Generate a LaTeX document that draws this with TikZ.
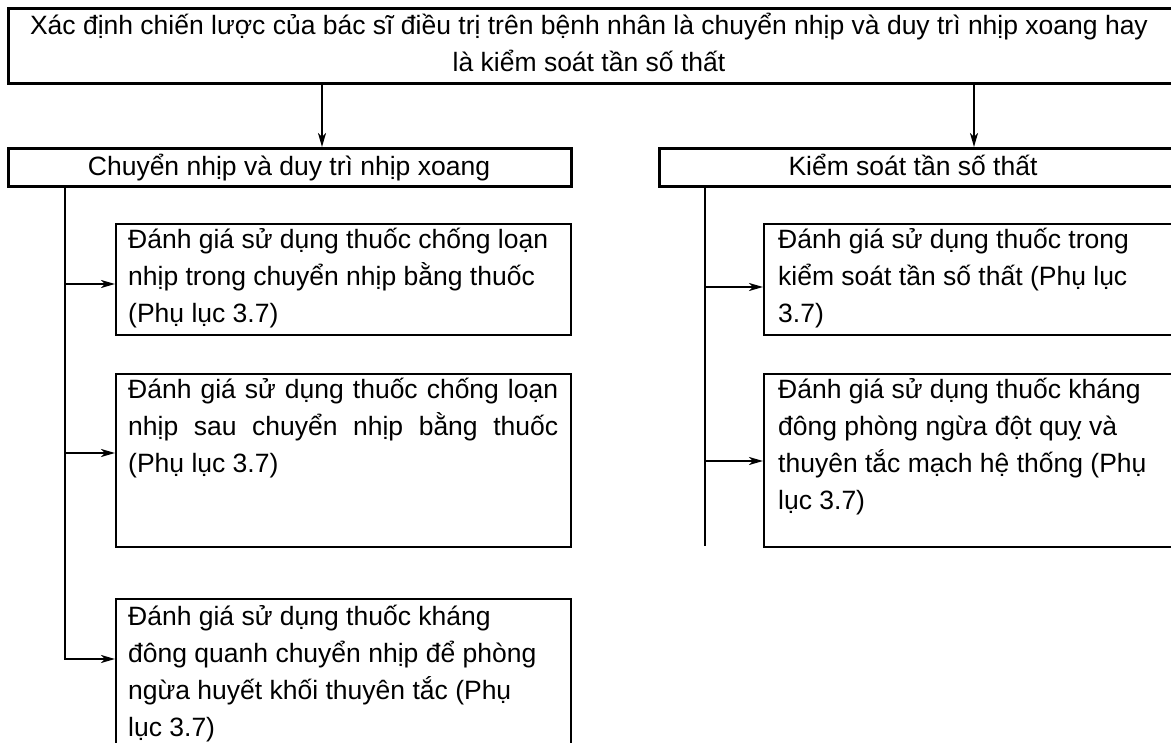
\documentclass[tikz,border=0pt]{standalone}
\usepackage{fontspec}
\setmainfont{Liberation Sans}
\usetikzlibrary{arrows.meta}
\newcommand\fsz{\fontsize{26.5pt}{37pt}\selectfont}
\begin{document}
\begin{tikzpicture}[x=1pt,y=-1pt,
  box/.style={draw, line width=2pt, inner sep=0pt, anchor=north west},
  bigbox/.style={box, line width=2.6pt},
  txt/.style={anchor=north west, inner sep=0pt, align=left, font=\fsz},
  arr/.style={line width=2pt, -{Stealth[length=14pt,width=8pt,inset=4pt]}},
  ln/.style={line width=2pt}]
\useasboundingbox (0,0) rectangle (1171,743);
\clip (0,0) rectangle (1171,743);
\fill[white] (0,0) rectangle (1171,743);
% boxes
\node[bigbox, minimum width=1185pt, minimum height=75pt] (top) at (7,7) {};
\node[bigbox, minimum width=563pt, minimum height=38pt] (L) at (7,147) {};
\node[bigbox, minimum width=525pt, minimum height=38pt] (R) at (658,147) {};
\node[box, minimum width=455pt, minimum height=111pt] (b1) at (115,223) {};
\node[box, minimum width=455pt, minimum height=173pt] (b2) at (115,373) {};
\node[box, minimum width=455pt, minimum height=200pt] (b3) at (115,598) {};
\node[box, minimum width=425pt, minimum height=111pt] (c1) at (763,223) {};
\node[box, minimum width=425pt, minimum height=173pt] (c2) at (763,373) {};
% texts
\node[txt, anchor=north, align=center] (t0) at (589,7) {\rule{0pt}{27pt}Xác định chiến lược của bác sĩ điều trị trên bệnh nhân là chuyển nhịp và duy trì nhịp xoang hay\\là kiểm soát tần số thất};
\node[font=\fsz, anchor=base, inner sep=0pt] (tL) at (289,176) {Chuyển nhịp và duy trì nhịp xoang};
\node[font=\fsz, anchor=base, inner sep=0pt] (tR) at (913,176) {Kiểm soát tần số thất};
\node[txt] (x1) at (128,223) {\rule{0pt}{25pt}Đánh giá sử dụng thuốc chống loạn\\nhịp trong chuyển nhịp bằng thuốc\\(Phụ lục 3.7)};
\node[txt] (x2) at (128,373) {\rule{0pt}{25pt}\makebox[430pt][s]{Đánh giá sử dụng thuốc chống loạn}\\\makebox[430pt][s]{nhịp sau chuyển nhịp bằng thuốc}\\(Phụ lục 3.7)};
\node[txt] (x3) at (128,598) {\rule{0pt}{27pt}Đánh giá sử dụng thuốc kháng\\đông quanh chuyển nhịp để phòng\\ngừa huyết khối thuyên tắc (Phụ\\lục 3.7)};
\node[txt] (y1) at (778,223) {\rule{0pt}{25pt}Đánh giá sử dụng thuốc trong\\kiểm soát tần số thất (Phụ lục\\3.7)};
\node[txt] (y2) at (778,373) {\rule{0pt}{25pt}Đánh giá sử dụng thuốc kháng\\đông phòng ngừa đột quỵ và\\thuyên tắc mạch hệ thống (Phụ\\lục 3.7)};
% connectors
\coordinate (ta) at (322,0);
\coordinate (tb) at (974,0);
\draw[arr] (top.south -| ta) -- (L.north -| ta);
\draw[arr] (top.south -| tb) -- (R.north -| tb);
\coordinate (la) at (65,284);
\coordinate (lb) at (65,453);
\coordinate (lc) at (65,659);
\draw[arr, line join=miter] (L.south -| lc) -- (lc) -- (b3.west |- lc);
\draw[arr] (la) -- (b1.west |- la);
\draw[arr] (lb) -- (b2.west |- lb);
\coordinate (ra) at (705,287);
\coordinate (rb) at (705,461);
\coordinate (re) at (705,546);
\draw[ln] (R.south -| ra) -- (re);
\draw[arr] (ra) -- (c1.west |- ra);
\draw[arr] (rb) -- (c2.west |- rb);
\end{tikzpicture}
\end{document}
